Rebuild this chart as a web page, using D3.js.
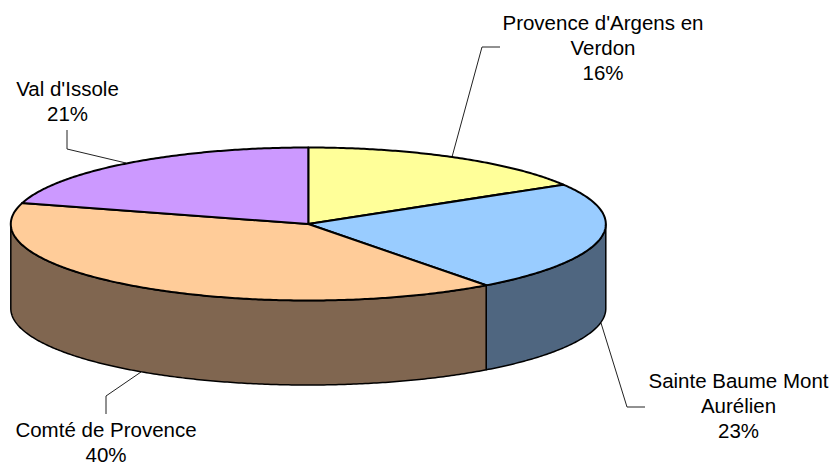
<!DOCTYPE html>
<html>
<head>
<meta charset="utf-8">
<script src="https://cdn.jsdelivr.net/npm/d3@7"></script>
<style>
	html, body { margin: 0; padding: 0; background: #fff; }
	svg { display: block; }
	text { font-family: "Liberation Sans", Arial, sans-serif; font-size: 20.5px; fill: #000; }
</style>
</head>
<body>
<script>
// Data
var categories = ["Provence d'Argens en Verdon", "Sainte Baume Mont Aurélien", "Comté de Provence", "Val d'Issole"];
var values = [16.4, 23.4, 39.6, 20.6];
var labelLines = [["Provence d'Argens en", "Verdon"], ["Sainte Baume Mont", "Aurélien"], ["Comté de Provence"], ["Val d'Issole"]];

var topColors = ["#FFFF99", "#99CCFF", "#FFCC99", "#CC99FF"];
var sideColors = ["#808050", "#4F6680", "#806650", "#665080"];

var width = 832,
		height = 463,
		cx = 308.3,
		cy = 224,
		rx = 297.5,
		ry = 76.5,
		depth = 84.5;

// Label centre + first baseline, and leader line points
var labelPos = [[603, 30], [738.5, 388], [106, 437], [67.5, 96]];
var leaders = [
	[[452, 157], [482, 47], [500, 47]],
	[[601, 323], [627, 407], [645, 407]],
	[[141, 372], [106, 396], [106, 414]],
	[[126, 163], [67, 149], [67, 130]]
];
var lineHeight = 25;

var x = d3.scaleLinear().domain([-1, 1]).range([cx - rx, cx + rx]);
var y = d3.scaleLinear().domain([-1, 1]).range([cy - ry, cy + ry]);

var format = d3.format(".0%");
var total = d3.sum(values);

var pie = d3.pie().sort(null);
var slices = pie(values);

var line = d3.line();

// point on the rim for a clockwise angle from 12 o'clock
function rim(a, dy) {
	return [x(Math.sin(a)), y(-Math.cos(a)) + (dy || 0)];
}

function arcPoints(a0, a1, dy) {
	var n = Math.max(2, Math.ceil((a1 - a0) / 0.01));
	return d3.range(n + 1).map(function(i) {
		return rim(a0 + (a1 - a0) * i / n, dy);
	});
}

var svg = d3.select("body").append("svg")
		.attr("width", width)
		.attr("height", height);

// Leader lines
svg.append("g").selectAll("path")
	.data(leaders)
	.enter().append("path")
		.attr("d", line)
		.attr("fill", "none")
		.attr("stroke", "#222")
		.attr("stroke-width", 1);

// Outer wall, only the front half of the rim shows
var wall = svg.append("g");
slices.forEach(function(d, i) {
	var a0 = Math.max(d.startAngle, Math.PI / 2),
			a1 = Math.min(d.endAngle, Math.PI * 1.5);
	if (a1 <= a0) return;
	var pts = arcPoints(a0, a1, 0).concat(arcPoints(a0, a1, depth).reverse());
	wall.append("path")
		.attr("d", line(pts) + "Z")
		.attr("fill", sideColors[i])
		.attr("stroke", "#000")
		.attr("stroke-width", 1.5)
		.attr("stroke-linejoin", "round");
});

// Top face
svg.append("g").selectAll("path")
	.data(slices)
	.enter().append("path")
		.attr("d", function(d) {
			return line([[x(0), y(0)]].concat(arcPoints(d.startAngle, d.endAngle, 0))) + "Z";
		})
		.attr("fill", function(d, i) { return topColors[i]; })
		.attr("stroke", "#000")
		.attr("stroke-width", 2)
		.attr("stroke-linejoin", "round");

// Labels
var labels = svg.append("g").selectAll("text")
	.data(categories)
	.enter().append("text")
		.attr("text-anchor", "middle");

labels.each(function(d, i) {
	var rows = labelLines[i].concat(format(values[i] / total));
	d3.select(this).selectAll("tspan")
		.data(rows)
		.enter().append("tspan")
			.attr("x", labelPos[i][0])
			.attr("y", function(r, j) { return labelPos[i][1] + j * lineHeight; })
			.text(function(r) { return r; });
});
</script>
</body>
</html>
